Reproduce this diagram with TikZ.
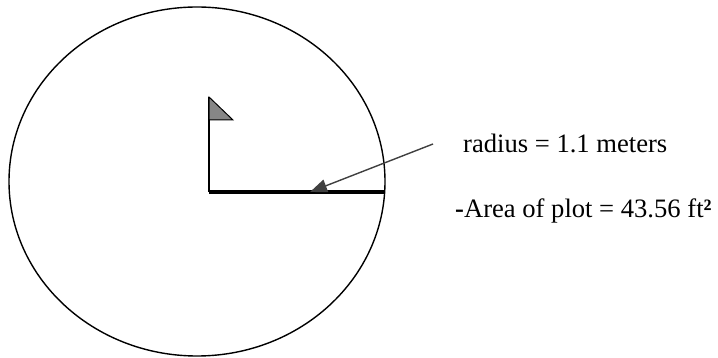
\documentclass[tikz,border=0pt]{standalone}
\usepackage{fontspec}
\setmainfont{Liberation Serif}
\usetikzlibrary{arrows.meta,positioning}

\begin{document}
\begin{tikzpicture}[
  x=1pt,
  y=-1pt,
  plot/.style={draw=black, line width=1.4pt},
  pole/.style={draw=black, line width=1.4pt},
  flagtri/.style={fill=gray!95, draw=black, line width=1pt, line join=miter},
  radiusline/.style={draw=black, line width=3.5pt},
  pointer/.style={draw=black!75, line width=1.4pt, -{Triangle[length=17pt, width=13pt]}},
  label/.style={font=\fontsize{26.6}{30}\selectfont, inner sep=0pt, anchor=base west}
]
\useasboundingbox (0,0) rectangle (718,358);
\draw[plot] (197,181.5) ellipse [x radius=188, y radius=174.5];
\coordinate (center) at (209,192);
\coordinate (rim) at (384,192);
\coordinate (flagtop) at (209,97);
\draw[pole] (center) -- (flagtop);
\draw[flagtri] (flagtop) -- (233,120) -- (209,120) -- cycle;
\draw[radiusline] (center) -- (rim);
\coordinate (tail) at (433,144);
\coordinate (tip) at (310,192);
\draw[pointer] (tail) -- (tip);
\node[label] (radius) at (463,153) {radius = 1.1 meters};
\node[label] (area) at (455,218) {\textbf{-}Area of plot = 43.56 ft\textbf{²}};
\end{tikzpicture}
\end{document}
